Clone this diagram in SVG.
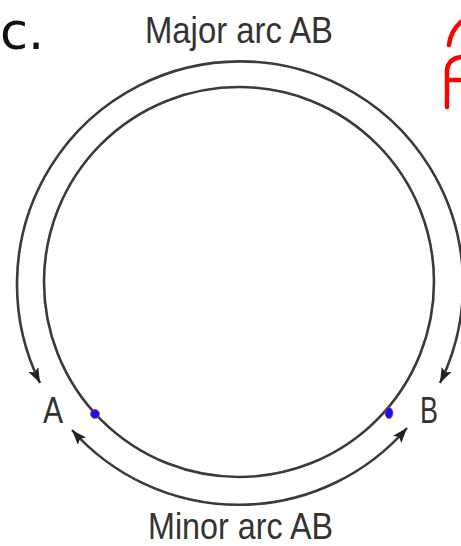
<svg xmlns="http://www.w3.org/2000/svg" width="461" height="546" viewBox="0 0 461 546">
<style>
.arc{fill:none;stroke:#3a3a3a;stroke-width:2.6}
.lbl{font-family:"Liberation Sans",Arial,sans-serif;font-size:36px;fill:#333}
.pt{fill:#0a14ff;stroke:#ff3030;stroke-width:0.8}
.red{fill:none;stroke:#ff0000;stroke-width:4.5;stroke-linecap:round;stroke-linejoin:round}
</style>
<defs>
<marker id="ah" markerUnits="userSpaceOnUse" markerWidth="18" markerHeight="12" refX="15" refY="5.5" orient="auto-start-reverse">
<path d="M0,0 L15,5.5 L0,11 L3,5.5 z" fill="#222"/>
</marker>
</defs>
<rect width="461" height="546" fill="#fff"/>
<text x="0" y="49" font-family="DejaVu Sans,sans-serif" font-size="51" fill="#111">c.</text>
<g id="circle">
<circle class="arc" cx="239" cy="282" r="195"/>
</g>
<g id="connectors">
<path id="major" class="arc" d="M440,383 A223,223 0 1 0 40,383" marker-start="url(#ah)" marker-end="url(#ah)"/>
<path id="minor" class="arc" d="M72,430 A223,223 0 0 0 407,428" marker-start="url(#ah)" marker-end="url(#ah)"/>
</g>
<g id="pointA">
<ellipse class="pt" cx="95" cy="414" rx="4.5" ry="4.5"/>
<text class="lbl" x="43" y="423" textLength="20" lengthAdjust="spacingAndGlyphs">A</text>
</g>
<g id="pointB">
<ellipse class="pt" cx="389" cy="413" rx="4" ry="5.5"/>
<text class="lbl" x="420" y="423" textLength="18" lengthAdjust="spacingAndGlyphs">B</text>
</g>
<g id="labelMajor">
<text class="lbl" x="145" y="43" textLength="188" lengthAdjust="spacingAndGlyphs">Major arc AB</text>
</g>
<g id="labelMinor">
<text class="lbl" x="148" y="539" textLength="185" lengthAdjust="spacingAndGlyphs">Minor arc AB</text>
</g>
<g id="handwriting">
<path class="red" d="M449,45 C450,36 454,28 461,22"/>
<path class="red" d="M447,107 L447,70 C448,62 453,58 461,57"/>
<path class="red" d="M448,80 L461,80"/>
</g>
</svg>
